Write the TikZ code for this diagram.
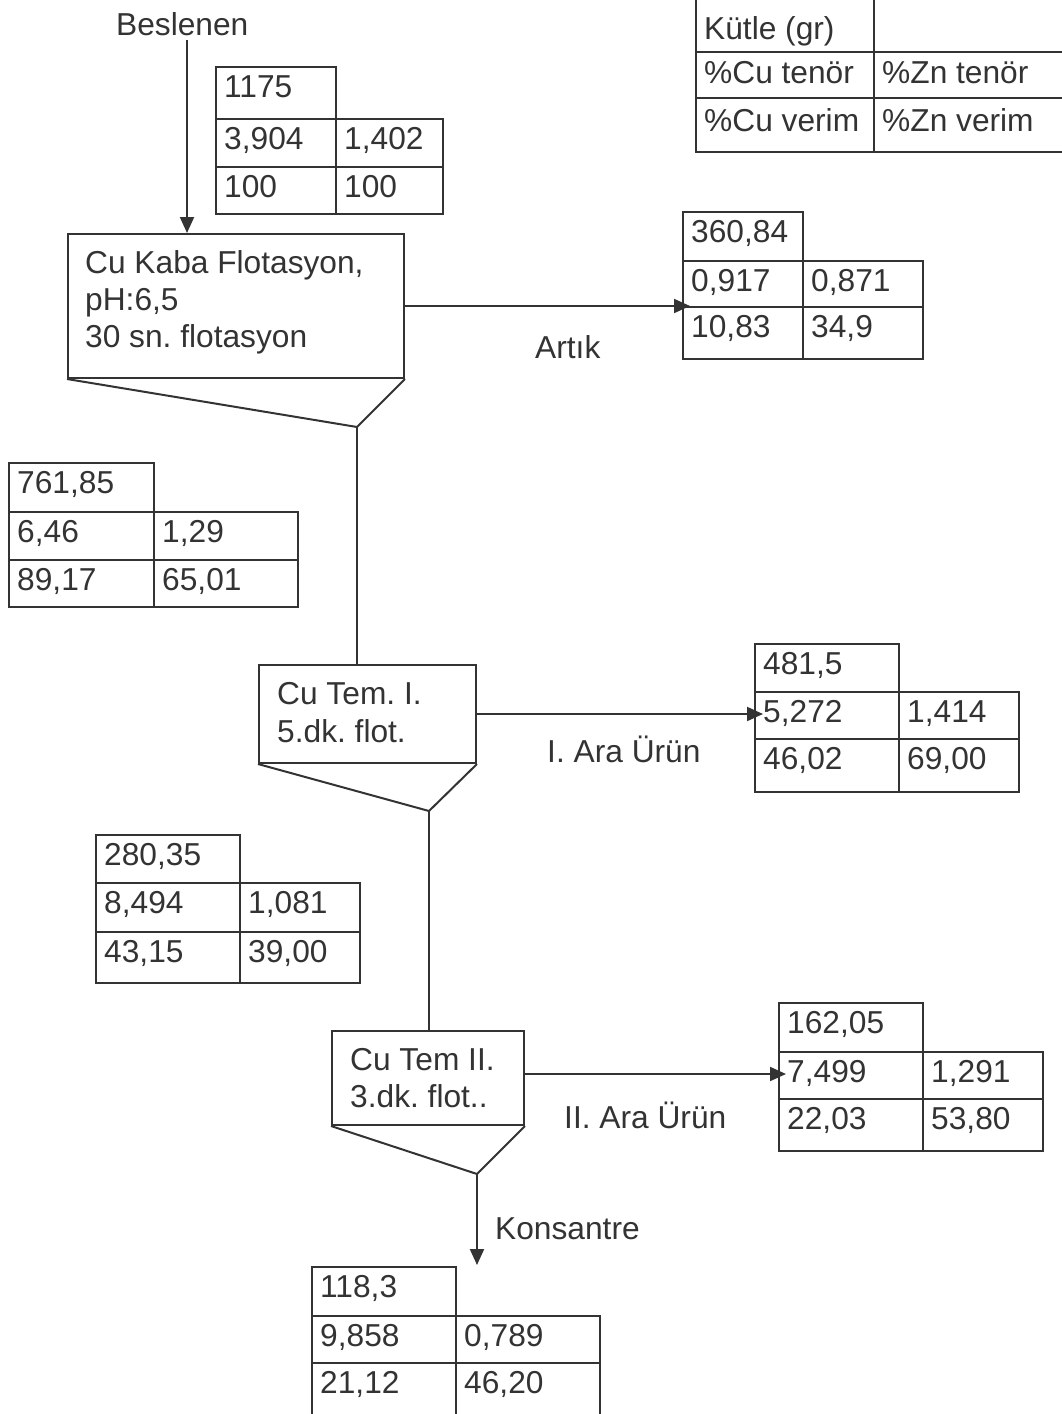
\documentclass[tikz,border=0pt]{standalone}
\usepackage{fontspec}
\setmainfont{Liberation Sans}
\usetikzlibrary{arrows.meta}
\frenchspacing
\definecolor{ink}{RGB}{51,51,51}
\tikzset{
  ln/.style={draw=ink, line width=2pt},
  txt/.style={text=ink, inner sep=0pt, anchor=base west, font=\fontsize{31.7}{37}\selectfont\frenchspacing},
  proc/.style={ln, rectangle, inner sep=0pt, anchor=north west},
  arr/.style={ln, -{Triangle[length=16pt,width=14pt]}},
}
% grid of a data table: name, xL, xM, xR, yTop, y1, y2, yBottom
\newcommand\tblgrid[8]{%
  \draw[ln] (#2,-#5) rectangle (#3,-#8);
  \draw[ln] (#3,-#6) -- (#4,-#6) -- (#4,-#8) -- (#3,-#8);
  \draw[ln] (#2,-#6) -- (#3,-#6);
  \draw[ln] (#2,-#7) -- (#4,-#7);
  \coordinate (#1-r1) at (#2+8,-#5-30);
  \coordinate (#1-r2a) at (#2+8,-#6-30);
  \coordinate (#1-r2b) at (#3+8,-#6-30);
  \coordinate (#1-r3a) at (#2+8,-#7-30);
  \coordinate (#1-r3b) at (#3+8,-#7-30);
}
\newcommand\tblvals[6]{%
  \node[txt] (#1-v1) at (#1-r1) {#2};
  \node[txt] (#1-v2) at (#1-r2a) {#3};
  \node[txt] (#1-v3) at (#1-r2b) {#4};
  \node[txt] (#1-v4) at (#1-r3a) {#5};
  \node[txt] (#1-v5) at (#1-r3b) {#6};
}
\begin{document}
\begin{tikzpicture}[x=1pt,y=1pt]
\useasboundingbox[fill=white] (0,0) rectangle (1061,-1414);

% legend table
\tblgrid{leg}{696}{874}{1064}{-3}{52}{98}{152}
\node[txt] (leg-v1) at (704,-39) {Kütle (gr)};
\node[txt] (leg-v2) at (704,-83) {\%Cu tenör};
\node[txt] (leg-v3) at (882,-83) {\%Zn tenör};
\node[txt] (leg-v4) at (704,-131) {\%Cu verim};
\node[txt] (leg-v5) at (882,-131) {\%Zn verim};

% feed
\node[txt] (beslenen) at (116,-35) {Beslenen};
\coordinate (feedin) at (187,-40);
\tblgrid{feed}{216}{336}{443}{67}{119}{167}{214}
\tblvals{feed}{1175}{3,904}{1,402}{100}{100}

% rougher
\node[proc, minimum width=336pt, minimum height=144pt] (kaba) at (67,-233) {};
\node[txt] (kaba-t1) at (85,-273) {Cu Kaba Flotasyon,};
\node[txt] (kaba-t2) at (85,-310) {pH:6,5};
\node[txt] (kaba-t3) at (85,-347) {30 sn. flotasyon};
\draw[arr] (feedin) -- (feedin |- kaba.north);
\draw[ln] (kaba.south west) -- ([shift={(-48,-48)}]kaba.south east) coordinate (kaba-apex) -- (kaba.south east);

% tailings
\tblgrid{artik}{683}{803}{923}{212}{261}{307}{359}
\tblvals{artik}{360,84}{0,917}{0,871}{10,83}{34,9}
\coordinate (artik-in) at (690,-307);
\draw[arr] (kaba.east) -- (kaba.east -| artik-in);
\node[txt] (artik-l) at (535,-358) {Artık};

% rougher concentrate
\tblgrid{kc}{9}{154}{298}{463}{512}{560}{607}
\tblvals{kc}{761,85}{6,46}{1,29}{89,17}{65,01}

% cleaner I
\node[proc, minimum width=217pt, minimum height=98pt] (tem1) at (258,-664) {};
\node[txt] (tem1-t1) at (277,-704) {Cu Tem. I.};
\node[txt] (tem1-t2) at (277,-742) {5.dk. flot.};
\draw[ln] (kaba-apex) -- (kaba-apex |- tem1.north);
\draw[ln] (tem1.south west) -- ([shift={(-48,-47)}]tem1.south east) coordinate (tem1-apex) -- (tem1.south east);

\tblgrid{ara1}{755}{899}{1019}{644}{692}{739}{792}
\tblvals{ara1}{481,5}{5,272}{1,414}{46,02}{69,00}
\coordinate (ara1-in) at (763,-714);
\draw[arr] (tem1.east) -- (tem1.east -| ara1-in);
\node[txt] (ara1-l) at (547,-762) {I. Ara Ürün};

\tblgrid{c1}{96}{240}{360}{835}{883}{932}{983}
\tblvals{c1}{280,35}{8,494}{1,081}{43,15}{39,00}

% cleaner II
\node[proc, minimum width=192pt, minimum height=94pt] (tem2) at (331,-1030) {};
\node[txt] (tem2-t1) at (350,-1070) {Cu Tem II.};
\node[txt] (tem2-t2) at (350,-1107) {3.dk. flot..};
\draw[ln] (tem1-apex) -- (tem1-apex |- tem2.north);
\draw[ln] (tem2.south west) -- ([shift={(-48,-48)}]tem2.south east) coordinate (tem2-apex) -- (tem2.south east);

\tblgrid{ara2}{779}{923}{1043}{1003}{1052}{1099}{1151}
\tblvals{ara2}{162,05}{7,499}{1,291}{22,03}{53,80}
\coordinate (ara2-in) at (786,-1072);
\draw[arr] ([yshift=4pt]tem2.east) -- ([yshift=4pt]tem2.east -| ara2-in);
\node[txt] (ara2-l) at (564,-1128) {II. Ara Ürün};

% final concentrate
\tblgrid{kons}{312}{456}{600}{1267}{1316}{1363}{1420}
\tblvals{kons}{118,3}{9,858}{0,789}{21,12}{46,20}
\coordinate (kons-in) at (475,-1265);
\draw[arr] (tem2-apex) -- (tem2-apex |- kons-in);
\node[txt] (kons-l) at (495,-1239) {Konsantre};
\end{tikzpicture}
\end{document}
